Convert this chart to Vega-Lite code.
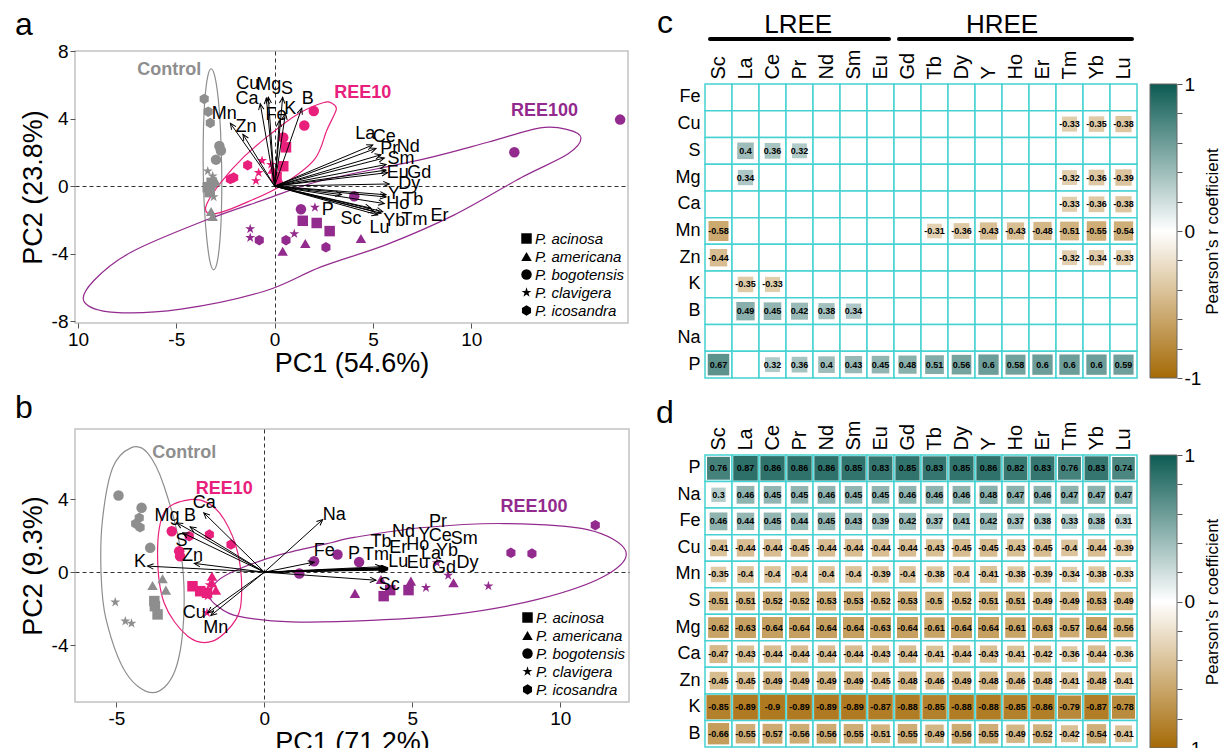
{
"$schema": "https://vega.github.io/schema/vega-lite/v6.json",
"padding": {"left": 14, "top": 7, "right": 2, "bottom": 2},
"autosize": {"type": "pad"},
"config": {
  "font": "Liberation Sans",
  "view": {"stroke": null},
  "axis": {"grid": false, "labelColor": "black", "titleColor": "black", "titleFontWeight": "normal"},
  "title": {"color": "black", "fontWeight": "normal"},
  "legend": {"labelColor": "black"}
},
"datasets": {
  "ptsA": [
    {"t":"Control","s":"P. icosandra","x":-3.58,"y":5.16},
    {"t":"Control","s":"P. icosandra","x":-3.38,"y":4.41},
    {"t":"Control","s":"P. icosandra","x":-3.27,"y":3.74},
    {"t":"Control","s":"P. bogotensis","x":-2.81,"y":2.38},
    {"t":"Control","s":"P. bogotensis","x":-2.73,"y":2.11},
    {"t":"Control","s":"P. bogotensis","x":-2.98,"y":1.57},
    {"t":"Control","s":"P. clavigera","x":-3.4,"y":0.89},
    {"t":"Control","s":"P. clavigera","x":-3.15,"y":0.6},
    {"t":"Control","s":"P. clavigera","x":-3.1,"y":-0.64},
    {"t":"Control","s":"P. acinosa","x":-3.4,"y":-0.06},
    {"t":"Control","s":"P. acinosa","x":-3.3,"y":-0.35},
    {"t":"Control","s":"P. acinosa","x":-3.2,"y":0.2},
    {"t":"Control","s":"P. americana","x":-3.23,"y":-1.5},
    {"t":"Control","s":"P. americana","x":-3.15,"y":-1.8},
    {"t":"Control","s":"P. americana","x":-3.0,"y":0.3},
    {"t":"REE10","s":"P. bogotensis","x":1.99,"y":4.45},
    {"t":"REE10","s":"P. bogotensis","x":1.51,"y":3.59},
    {"t":"REE10","s":"P. bogotensis","x":0.44,"y":2.88},
    {"t":"REE10","s":"P. acinosa","x":0.58,"y":2.3},
    {"t":"REE10","s":"P. acinosa","x":0.44,"y":1.18},
    {"t":"REE10","s":"P. acinosa","x":0.1,"y":0.55},
    {"t":"REE10","s":"P. icosandra","x":-1.37,"y":1.24},
    {"t":"REE10","s":"P. icosandra","x":-2.08,"y":0.51},
    {"t":"REE10","s":"P. icosandra","x":-2.25,"y":0.42},
    {"t":"REE10","s":"P. clavigera","x":-0.64,"y":1.51},
    {"t":"REE10","s":"P. clavigera","x":-0.81,"y":0.8},
    {"t":"REE10","s":"P. clavigera","x":-0.95,"y":0.32},
    {"t":"REE10","s":"P. clavigera","x":-0.18,"y":1.28},
    {"t":"REE10","s":"P. americana","x":0.25,"y":0.35},
    {"t":"REE10","s":"P. americana","x":-0.1,"y":1.0},
    {"t":"REE100","s":"P. bogotensis","x":17.57,"y":3.94},
    {"t":"REE100","s":"P. bogotensis","x":12.19,"y":2.01},
    {"t":"REE100","s":"P. bogotensis","x":4.05,"y":-0.6},
    {"t":"REE100","s":"P. bogotensis","x":1.34,"y":-1.37},
    {"t":"REE100","s":"P. clavigera","x":2.05,"y":-1.26},
    {"t":"REE100","s":"P. clavigera","x":-1.24,"y":-2.53},
    {"t":"REE100","s":"P. clavigera","x":-1.24,"y":-3.05},
    {"t":"REE100","s":"P. clavigera","x":1.0,"y":-2.82},
    {"t":"REE100","s":"P. acinosa","x":1.43,"y":-2.05},
    {"t":"REE100","s":"P. acinosa","x":2.14,"y":-2.18},
    {"t":"REE100","s":"P. acinosa","x":2.8,"y":-2.66},
    {"t":"REE100","s":"P. icosandra","x":-0.78,"y":-3.2},
    {"t":"REE100","s":"P. icosandra","x":0.58,"y":-3.2},
    {"t":"REE100","s":"P. icosandra","x":2.61,"y":-3.62},
    {"t":"REE100","s":"P. americana","x":0.41,"y":-3.85},
    {"t":"REE100","s":"P. americana","x":1.56,"y":-3.39},
    {"t":"REE100","s":"P. americana","x":4.39,"y":-3.1}
  ],
  "ellA": [
    {"t":"Control","i":0,"x":-2.69,"y":1.0},
    {"t":"Control","i":1,"x":-2.75,"y":3.28},
    {"t":"Control","i":2,"x":-2.87,"y":5.21},
    {"t":"Control","i":3,"x":-3.04,"y":6.5},
    {"t":"Control","i":4,"x":-3.23,"y":6.95},
    {"t":"Control","i":5,"x":-3.4,"y":6.5},
    {"t":"Control","i":6,"x":-3.54,"y":5.21},
    {"t":"Control","i":7,"x":-3.62,"y":3.28},
    {"t":"Control","i":8,"x":-3.63,"y":1.0},
    {"t":"Control","i":9,"x":-3.57,"y":-1.28},
    {"t":"Control","i":10,"x":-3.44,"y":-3.21},
    {"t":"Control","i":11,"x":-3.28,"y":-4.5},
    {"t":"Control","i":12,"x":-3.1,"y":-4.95},
    {"t":"Control","i":13,"x":-2.92,"y":-4.5},
    {"t":"Control","i":14,"x":-2.78,"y":-3.21},
    {"t":"Control","i":15,"x":-2.7,"y":-1.28},
    {"t":"REE10","i":0,"x":3.14,"y":4.6},
    {"t":"REE10","i":1,"x":2.95,"y":4.88},
    {"t":"REE10","i":2,"x":2.5,"y":4.95},
    {"t":"REE10","i":3,"x":1.17,"y":4.26},
    {"t":"REE10","i":4,"x":-0.18,"y":3.11},
    {"t":"REE10","i":5,"x":-1.54,"y":1.76},
    {"t":"REE10","i":6,"x":-2.73,"y":0.23},
    {"t":"REE10","i":7,"x":-3.45,"y":-1.05},
    {"t":"REE10","i":8,"x":-3.4,"y":-1.6},
    {"t":"REE10","i":9,"x":-2.73,"y":-1.55},
    {"t":"REE10","i":10,"x":-1.37,"y":-0.93},
    {"t":"REE10","i":11,"x":0.33,"y":0.03},
    {"t":"REE10","i":12,"x":2.02,"y":1.57},
    {"t":"REE10","i":13,"x":2.65,"y":3.3},
    {"t":"REE10","i":14,"x":3.0,"y":4.15},
    {"t":"REE100","i":0,"x":15.58,"y":2.85},
    {"t":"REE100","i":1,"x":14.9,"y":3.35},
    {"t":"REE100","i":2,"x":13.5,"y":3.45},
    {"t":"REE100","i":3,"x":10.84,"y":2.6},
    {"t":"REE100","i":4,"x":7.45,"y":1.57},
    {"t":"REE100","i":5,"x":2.36,"y":0.32},
    {"t":"REE100","i":6,"x":-0.52,"y":-0.8},
    {"t":"REE100","i":7,"x":-3.58,"y":-2.05},
    {"t":"REE100","i":8,"x":-7.3,"y":-3.91},
    {"t":"REE100","i":9,"x":-9.2,"y":-5.6},
    {"t":"REE100","i":10,"x":-9.68,"y":-6.85},
    {"t":"REE100","i":11,"x":-8.15,"y":-7.47},
    {"t":"REE100","i":12,"x":-4.76,"y":-7.28},
    {"t":"REE100","i":13,"x":-0.52,"y":-6.22},
    {"t":"REE100","i":14,"x":2.36,"y":-4.78},
    {"t":"REE100","i":15,"x":5.75,"y":-3.43},
    {"t":"REE100","i":16,"x":9.14,"y":-1.7},
    {"t":"REE100","i":17,"x":12.53,"y":0.5},
    {"t":"REE100","i":18,"x":14.91,"y":1.9}
  ],
  "arrA": [
    {"n":"Cu","x":-0.42,"y":5.22},
    {"n":"Mg","x":-0.32,"y":5.26},
    {"n":"S","x":0.41,"y":5.26},
    {"n":"Ca","x":-0.73,"y":4.88},
    {"n":"Fe","x":0.24,"y":3.88},
    {"n":"K","x":0.55,"y":4.3},
    {"n":"B","x":1.38,"y":4.61},
    {"n":"Mn","x":-2.25,"y":3.72},
    {"n":"Zn","x":-1.61,"y":3.07},
    {"n":"La","x":4.99,"y":2.44},
    {"n":"Ce","x":5.16,"y":2.24},
    {"n":"Pr","x":5.41,"y":1.86},
    {"n":"Nd","x":5.58,"y":1.67},
    {"n":"Sm","x":5.67,"y":1.28},
    {"n":"Eu","x":5.67,"y":0.95},
    {"n":"Gd","x":5.75,"y":0.8},
    {"n":"Dy","x":5.83,"y":0.13},
    {"n":"Y","x":5.67,"y":-0.51},
    {"n":"Tb","x":5.67,"y":-0.64},
    {"n":"Ho","x":5.58,"y":-1.03},
    {"n":"Er","x":5.5,"y":-1.51},
    {"n":"Tm","x":5.41,"y":-1.6},
    {"n":"Yb","x":5.24,"y":-1.7},
    {"n":"Lu","x":5.07,"y":-1.51},
    {"n":"Sc","x":4.9,"y":-1.3},
    {"n":"P","x":3.4,"y":-0.5}
  ],
  "labA": [
    {"n":"Cu","x":-1.37,"y":6.05},
    {"n":"Mg","x":-0.3,"y":6.0},
    {"n":"S","x":0.63,"y":5.74},
    {"n":"Ca","x":-1.4,"y":5.13},
    {"n":"Fe","x":0.07,"y":4.22},
    {"n":"K","x":0.8,"y":4.55},
    {"n":"B","x":1.68,"y":5.13},
    {"n":"Mn","x":-2.56,"y":4.3},
    {"n":"Zn","x":-1.45,"y":3.53},
    {"n":"La","x":4.61,"y":3.11},
    {"n":"Ce","x":5.58,"y":2.91},
    {"n":"Pr","x":5.83,"y":2.2},
    {"n":"Nd","x":6.8,"y":2.34},
    {"n":"Sm","x":6.43,"y":1.61},
    {"n":"Eu","x":6.26,"y":0.8},
    {"n":"Gd","x":7.36,"y":0.8},
    {"n":"Dy","x":6.85,"y":0.13},
    {"n":"Y","x":6.06,"y":-0.49},
    {"n":"Tb","x":7.02,"y":-0.8},
    {"n":"Ho","x":6.26,"y":-1.08},
    {"n":"Er","x":8.38,"y":-1.79},
    {"n":"Tm","x":7.11,"y":-1.99},
    {"n":"Yb","x":6.09,"y":-2.05},
    {"n":"Lu","x":5.33,"y":-2.47},
    {"n":"Sc","x":3.89,"y":-1.95},
    {"n":"P","x":2.7,"y":-1.41}
  ],
  "grpA": [
    {"t":"Control","x":-5.36,"y":6.86},
    {"t":"REE10","x":4.48,"y":5.51},
    {"t":"REE100","x":13.72,"y":4.45}
  ],
  "ptsB": [
    {"t":"Control","s":"P. bogotensis","x":-4.93,"y":4.19},
    {"t":"Control","s":"P. bogotensis","x":-4.15,"y":3.52},
    {"t":"Control","s":"P. bogotensis","x":-3.86,"y":1.33},
    {"t":"Control","s":"P. icosandra","x":-4.23,"y":2.97},
    {"t":"Control","s":"P. icosandra","x":-4.35,"y":2.65},
    {"t":"Control","s":"P. icosandra","x":-4.2,"y":2.45},
    {"t":"Control","s":"P. americana","x":-3.44,"y":-0.36},
    {"t":"Control","s":"P. americana","x":-3.78,"y":-0.73},
    {"t":"Control","s":"P. americana","x":-3.33,"y":-0.98},
    {"t":"Control","s":"P. acinosa","x":-3.72,"y":-1.58},
    {"t":"Control","s":"P. acinosa","x":-3.7,"y":-1.86},
    {"t":"Control","s":"P. acinosa","x":-3.61,"y":-2.31},
    {"t":"Control","s":"P. clavigera","x":-5.04,"y":-1.64},
    {"t":"Control","s":"P. clavigera","x":-4.7,"y":-2.68},
    {"t":"Control","s":"P. clavigera","x":-4.49,"y":-2.8},
    {"t":"REE10","s":"P. bogotensis","x":-3.13,"y":2.24},
    {"t":"REE10","s":"P. bogotensis","x":-2.88,"y":1.15},
    {"t":"REE10","s":"P. bogotensis","x":-2.85,"y":0.87},
    {"t":"REE10","s":"P. icosandra","x":-2.54,"y":1.97},
    {"t":"REE10","s":"P. icosandra","x":-1.86,"y":2.06},
    {"t":"REE10","s":"P. icosandra","x":-1.13,"y":1.51},
    {"t":"REE10","s":"P. acinosa","x":-2.43,"y":-0.77},
    {"t":"REE10","s":"P. acinosa","x":-2.17,"y":-1.04},
    {"t":"REE10","s":"P. acinosa","x":-1.94,"y":-1.13},
    {"t":"REE10","s":"P. americana","x":-1.77,"y":-0.22},
    {"t":"REE10","s":"P. americana","x":-1.77,"y":-0.58},
    {"t":"REE10","s":"P. americana","x":-1.64,"y":-0.98},
    {"t":"REE10","s":"P. clavigera","x":-1.92,"y":-1.31},
    {"t":"REE10","s":"P. clavigera","x":-1.94,"y":-2.22},
    {"t":"REE10","s":"P. clavigera","x":-1.85,"y":-0.7},
    {"t":"REE100","s":"P. bogotensis","x":1.68,"y":0.6},
    {"t":"REE100","s":"P. bogotensis","x":2.47,"y":0.97},
    {"t":"REE100","s":"P. bogotensis","x":3.2,"y":0.55},
    {"t":"REE100","s":"P. bogotensis","x":1.18,"y":-0.07},
    {"t":"REE100","s":"P. icosandra","x":11.18,"y":2.57},
    {"t":"REE100","s":"P. icosandra","x":8.33,"y":1.06},
    {"t":"REE100","s":"P. icosandra","x":9.04,"y":1.02},
    {"t":"REE100","s":"P. americana","x":3.06,"y":-1.16},
    {"t":"REE100","s":"P. americana","x":4.95,"y":-0.49},
    {"t":"REE100","s":"P. americana","x":6.39,"y":-0.58},
    {"t":"REE100","s":"P. americana","x":3.94,"y":-0.4},
    {"t":"REE100","s":"P. acinosa","x":4.03,"y":-1.31},
    {"t":"REE100","s":"P. acinosa","x":4.25,"y":-0.98},
    {"t":"REE100","s":"P. acinosa","x":4.87,"y":-0.98},
    {"t":"REE100","s":"P. clavigera","x":5.46,"y":-0.85},
    {"t":"REE100","s":"P. clavigera","x":6.21,"y":-0.18},
    {"t":"REE100","s":"P. clavigera","x":7.57,"y":-0.76},
    {"t":"REE100","s":"P. clavigera","x":5.83,"y":0.51}
  ],
  "ellB": [
    {"t":"Control","i":0,"x":-4.51,"y":6.8},
    {"t":"Control","i":1,"x":-3.95,"y":6.52},
    {"t":"Control","i":2,"x":-3.39,"y":4.7},
    {"t":"Control","i":3,"x":-2.82,"y":1.06},
    {"t":"Control","i":4,"x":-2.73,"y":-2.58},
    {"t":"Control","i":5,"x":-3.05,"y":-5.5},
    {"t":"Control","i":6,"x":-3.78,"y":-6.59},
    {"t":"Control","i":7,"x":-4.68,"y":-5.5},
    {"t":"Control","i":8,"x":-5.35,"y":-2.58},
    {"t":"Control","i":9,"x":-5.52,"y":-0.03},
    {"t":"Control","i":10,"x":-5.47,"y":2.88},
    {"t":"Control","i":11,"x":-5.13,"y":5.7},
    {"t":"REE10","i":0,"x":-2.65,"y":3.93},
    {"t":"REE10","i":1,"x":-1.92,"y":3.79},
    {"t":"REE10","i":2,"x":-1.36,"y":2.88},
    {"t":"REE10","i":3,"x":-0.9,"y":1.06},
    {"t":"REE10","i":4,"x":-0.77,"y":-1.13},
    {"t":"REE10","i":5,"x":-0.96,"y":-2.58},
    {"t":"REE10","i":6,"x":-1.75,"y":-3.77},
    {"t":"REE10","i":7,"x":-2.59,"y":-3.5},
    {"t":"REE10","i":8,"x":-3.39,"y":-1.67},
    {"t":"REE10","i":9,"x":-3.61,"y":1.06},
    {"t":"REE10","i":10,"x":-3.39,"y":3.25},
    {"t":"REE100","i":0,"x":-1.85,"y":-1.3},
    {"t":"REE100","i":1,"x":-1.6,"y":-0.5},
    {"t":"REE100","i":2,"x":-0.9,"y":0.15},
    {"t":"REE100","i":3,"x":0.56,"y":0.97},
    {"t":"REE100","i":4,"x":2.25,"y":1.61},
    {"t":"REE100","i":5,"x":3.03,"y":1.9},
    {"t":"REE100","i":6,"x":5.29,"y":2.43},
    {"t":"REE100","i":7,"x":8.1,"y":2.66},
    {"t":"REE100","i":8,"x":10.92,"y":2.33},
    {"t":"REE100","i":9,"x":12.21,"y":1.15},
    {"t":"REE100","i":10,"x":11.48,"y":-0.22},
    {"t":"REE100","i":11,"x":9.23,"y":-1.49},
    {"t":"REE100","i":12,"x":6.41,"y":-2.31},
    {"t":"REE100","i":13,"x":3.6,"y":-2.64},
    {"t":"REE100","i":14,"x":0.9,"y":-2.72},
    {"t":"REE100","i":15,"x":-0.9,"y":-2.4},
    {"t":"REE100","i":16,"x":-1.58,"y":-1.86}
  ],
  "arrB": [
    {"n":"Ca","x":-2.05,"y":3.25},
    {"n":"Mg","x":-2.96,"y":2.7},
    {"n":"B","x":-2.51,"y":2.48},
    {"n":"S","x":-2.76,"y":2.15},
    {"n":"Zn","x":-2.37,"y":0.48},
    {"n":"K","x":-3.95,"y":0.33},
    {"n":"Cu","x":-1.92,"y":-2.22},
    {"n":"Mn","x":-1.81,"y":-2.37},
    {"n":"Na","x":1.97,"y":2.88},
    {"n":"Fe","x":1.68,"y":0.55},
    {"n":"P","x":3.95,"y":0.3},
    {"n":"Tm","x":4.05,"y":0.22},
    {"n":"Tb","x":4.1,"y":0.22},
    {"n":"Nd","x":4.15,"y":0.22},
    {"n":"Er","x":4.1,"y":0.18},
    {"n":"Ho","x":4.1,"y":0.2},
    {"n":"Y","x":4.15,"y":0.25},
    {"n":"Pr","x":4.15,"y":0.23},
    {"n":"Ce","x":4.15,"y":0.22},
    {"n":"Sm","x":4.15,"y":0.2},
    {"n":"La","x":4.15,"y":0.2},
    {"n":"Yb","x":4.15,"y":0.12},
    {"n":"Lu","x":4.05,"y":0.15},
    {"n":"Eu","x":4.1,"y":0.18},
    {"n":"Gd","x":4.15,"y":0.16},
    {"n":"Dy","x":4.15,"y":0.15},
    {"n":"Sc","x":3.77,"y":-0.44}
  ],
  "labB": [
    {"n":"Ca","x":-2.03,"y":3.79},
    {"n":"Mg","x":-3.29,"y":3.06},
    {"n":"B","x":-2.51,"y":3.06},
    {"n":"S","x":-2.8,"y":1.69},
    {"n":"Zn","x":-2.43,"y":0.91},
    {"n":"K","x":-4.2,"y":0.55},
    {"n":"Cu","x":-2.37,"y":-2.22},
    {"n":"Mn","x":-1.64,"y":-3.04},
    {"n":"Na","x":2.36,"y":3.15},
    {"n":"Fe","x":2.02,"y":1.15},
    {"n":"P","x":3.03,"y":0.97},
    {"n":"Tm","x":3.77,"y":0.93},
    {"n":"Tb","x":3.94,"y":1.64},
    {"n":"Nd","x":4.7,"y":2.19},
    {"n":"Er","x":4.52,"y":1.33},
    {"n":"Ho","x":5.18,"y":1.46},
    {"n":"Y","x":5.4,"y":2.06},
    {"n":"Pr","x":5.87,"y":2.73},
    {"n":"Ce","x":5.94,"y":2.0},
    {"n":"Sm","x":6.75,"y":1.84},
    {"n":"La","x":5.63,"y":0.97},
    {"n":"Yb","x":6.17,"y":1.15},
    {"n":"Lu","x":4.52,"y":0.55},
    {"n":"Eu","x":5.18,"y":0.48},
    {"n":"Gd","x":6.07,"y":0.24},
    {"n":"Dy","x":6.86,"y":0.48},
    {"n":"Sc","x":4.22,"y":-0.71}
  ],
  "grpB": [
    {"t":"Control","x":-2.71,"y":6.52},
    {"t":"REE10","x":-1.36,"y":4.56},
    {"t":"REE100","x":9.11,"y":3.57}
  ],
  "corrC": [
    {"row":"Fe"},
    {"row":"Cu","Tm":-0.33,"Yb":-0.35,"Lu":-0.38},
    {"row":"S","La":0.4,"Ce":0.36,"Pr":0.32},
    {"row":"Mg","La":0.34,"Tm":-0.32,"Yb":-0.36,"Lu":-0.39},
    {"row":"Ca","Tm":-0.33,"Yb":-0.36,"Lu":-0.38},
    {"row":"Mn","Sc":-0.58,"Tb":-0.31,"Dy":-0.36,"Y":-0.43,"Ho":-0.43,"Er":-0.48,"Tm":-0.51,"Yb":-0.55,"Lu":-0.54},
    {"row":"Zn","Sc":-0.44,"Tm":-0.32,"Yb":-0.34,"Lu":-0.33},
    {"row":"K","La":-0.35,"Ce":-0.33},
    {"row":"B","La":0.49,"Ce":0.45,"Pr":0.42,"Nd":0.38,"Sm":0.34},
    {"row":"Na"},
    {"row":"P","Sc":0.67,"Ce":0.32,"Pr":0.36,"Nd":0.4,"Sm":0.43,"Eu":0.45,"Gd":0.48,"Tb":0.51,"Dy":0.56,"Y":0.6,"Ho":0.58,"Er":0.6,"Tm":0.6,"Yb":0.6,"Lu":0.59}
  ],
  "corrD": [
    {"row":"P","Sc":0.76,"La":0.87,"Ce":0.86,"Pr":0.86,"Nd":0.86,"Sm":0.85,"Eu":0.83,"Gd":0.85,"Tb":0.83,"Dy":0.85,"Y":0.86,"Ho":0.82,"Er":0.83,"Tm":0.76,"Yb":0.83,"Lu":0.74},
    {"row":"Na","Sc":0.3,"La":0.46,"Ce":0.45,"Pr":0.45,"Nd":0.46,"Sm":0.45,"Eu":0.45,"Gd":0.46,"Tb":0.46,"Dy":0.46,"Y":0.48,"Ho":0.47,"Er":0.46,"Tm":0.47,"Yb":0.47,"Lu":0.47},
    {"row":"Fe","Sc":0.46,"La":0.44,"Ce":0.45,"Pr":0.44,"Nd":0.45,"Sm":0.43,"Eu":0.39,"Gd":0.42,"Tb":0.37,"Dy":0.41,"Y":0.42,"Ho":0.37,"Er":0.38,"Tm":0.33,"Yb":0.38,"Lu":0.31},
    {"row":"Cu","Sc":-0.41,"La":-0.44,"Ce":-0.44,"Pr":-0.45,"Nd":-0.44,"Sm":-0.44,"Eu":-0.44,"Gd":-0.44,"Tb":-0.43,"Dy":-0.45,"Y":-0.45,"Ho":-0.43,"Er":-0.45,"Tm":-0.4,"Yb":-0.44,"Lu":-0.39},
    {"row":"Mn","Sc":-0.35,"La":-0.4,"Ce":-0.4,"Pr":-0.4,"Nd":-0.4,"Sm":-0.4,"Eu":-0.39,"Gd":-0.4,"Tb":-0.38,"Dy":-0.4,"Y":-0.41,"Ho":-0.38,"Er":-0.39,"Tm":-0.34,"Yb":-0.38,"Lu":-0.33},
    {"row":"S","Sc":-0.51,"La":-0.51,"Ce":-0.52,"Pr":-0.52,"Nd":-0.53,"Sm":-0.53,"Eu":-0.52,"Gd":-0.53,"Tb":-0.5,"Dy":-0.52,"Y":-0.51,"Ho":-0.51,"Er":-0.49,"Tm":-0.49,"Yb":-0.53,"Lu":-0.49},
    {"row":"Mg","Sc":-0.62,"La":-0.63,"Ce":-0.64,"Pr":-0.64,"Nd":-0.64,"Sm":-0.64,"Eu":-0.63,"Gd":-0.64,"Tb":-0.61,"Dy":-0.64,"Y":-0.64,"Ho":-0.61,"Er":-0.63,"Tm":-0.57,"Yb":-0.64,"Lu":-0.56},
    {"row":"Ca","Sc":-0.47,"La":-0.43,"Ce":-0.44,"Pr":-0.44,"Nd":-0.44,"Sm":-0.44,"Eu":-0.43,"Gd":-0.44,"Tb":-0.41,"Dy":-0.44,"Y":-0.43,"Ho":-0.41,"Er":-0.42,"Tm":-0.36,"Yb":-0.44,"Lu":-0.36},
    {"row":"Zn","Sc":-0.45,"La":-0.45,"Ce":-0.49,"Pr":-0.49,"Nd":-0.49,"Sm":-0.49,"Eu":-0.45,"Gd":-0.48,"Tb":-0.46,"Dy":-0.49,"Y":-0.48,"Ho":-0.46,"Er":-0.48,"Tm":-0.41,"Yb":-0.48,"Lu":-0.41},
    {"row":"K","Sc":-0.85,"La":-0.89,"Ce":-0.9,"Pr":-0.89,"Nd":-0.89,"Sm":-0.89,"Eu":-0.87,"Gd":-0.88,"Tb":-0.85,"Dy":-0.88,"Y":-0.88,"Ho":-0.85,"Er":-0.86,"Tm":-0.79,"Yb":-0.87,"Lu":-0.78},
    {"row":"B","Sc":-0.66,"La":-0.55,"Ce":-0.57,"Pr":-0.56,"Nd":-0.56,"Sm":-0.55,"Eu":-0.51,"Gd":-0.55,"Tb":-0.49,"Dy":-0.56,"Y":-0.55,"Ho":-0.49,"Er":-0.52,"Tm":-0.42,"Yb":-0.54,"Lu":-0.41}
  ]
},
"bounds": "full",
"spacing": 26,
"resolve": {"scale": {"color": "independent", "shape": "independent", "size": "independent"}, "legend": {"color": "independent", "shape": "independent", "size": "independent"}},
"hconcat": [
  {
    "spacing": 0,
    "resolve": {"scale": {"color": "independent", "shape": "independent", "size": "independent"}, "legend": {"color": "independent", "shape": "independent", "size": "independent"}},
    "vconcat": [
      {
        "title": {"text": "a", "anchor": "start", "frame": "group", "fontSize": 32, "dx": -60, "offset": -35, "baseline": "alphabetic"},
        "width": 553, "height": 1,
        "data": {"values": [{}]},
        "mark": {"type": "point", "opacity": 0}
      },
      {
        "spacing": 14,
        "resolve": {"scale": {"color": "independent", "shape": "independent", "size": "independent"}, "legend": {"color": "independent", "shape": "independent", "size": "independent"}},
        "vconcat": [
          {
            "width": 553, "height": 272,
            "view": {"stroke": "#c2c2c2", "strokeWidth": 1.5},
            "encoding": {
              "x": {"field": "x", "type": "quantitative", "scale": {"domain": [-10.15, 17.97], "nice": false, "zero": false},
                    "axis": {"title": "PC1 (54.6%)", "values": [-10, -5, 0, 5, 10], "labelExpr": "datum.value == -10 ? '10' : '' + datum.value", "labelFlush": false, "labelFont": "Liberation Sans Narrow, Liberation Sans", "labelFontSize": 19, "titleFont": "Liberation Sans Narrow, Liberation Sans", "titleFontSize": 27, "titlePadding": 1, "tickSize": 5, "tickColor": "#555", "domain": false, "labelPadding": 2,
                             "grid": true, "gridColor": "#333", "gridDash": [4, 3], "gridWidth": 1, "gridOpacity": {"condition": {"test": "datum.value === 0", "value": 1}, "value": 0}}},
              "y": {"field": "y", "type": "quantitative", "scale": {"domain": [-8.1, 8.0], "nice": false, "zero": false},
                    "axis": {"title": "PC2 (23.8%)", "values": [-8, -4, 0, 4, 8], "labelExpr": "'' + datum.value", "labelFlush": false, "labelFont": "Liberation Sans Narrow, Liberation Sans", "labelFontSize": 19, "titleFont": "Liberation Sans Narrow, Liberation Sans", "titleFontSize": 27, "titlePadding": 4, "tickSize": 5, "tickColor": "#555", "domain": false, "labelPadding": 2,
                             "grid": true, "gridColor": "#333", "gridDash": [4, 3], "gridWidth": 1, "gridOpacity": {"condition": {"test": "datum.value === 0", "value": 1}, "value": 0}}}
            },
            "layer": [
              {"data": {"name": "ellA"}, "mark": {"type": "line", "interpolate": "cardinal-closed", "strokeWidth": 1.2},
               "encoding": {
                 "color": {"field": "t", "type": "nominal", "scale": {"domain": ["Control", "REE10", "REE100"], "range": ["#8e8e8e", "#e8207c", "#932a8e"]}, "legend": null},
                 "order": {"field": "i", "type": "quantitative"}}},
              {"data": {"name": "ptsA"}, "mark": {"type": "point", "filled": true, "opacity": 1, "size": 110},
               "encoding": {
                 "color": {"field": "t", "type": "nominal", "scale": {"domain": ["Control", "REE10", "REE100"], "range": ["#8e8e8e", "#e8207c", "#932a8e"]}, "legend": null},
                 "shape": {"field": "s", "type": "nominal",
                           "scale": {"domain": ["P. acinosa", "P. americana", "P. bogotensis", "P. clavigera", "P. icosandra"],
                                     "range": ["square", "triangle-up", "circle", "M0,-1L0.2245,-0.309L0.9511,-0.309L0.3633,0.118L0.5878,0.809L0,0.382L-0.5878,0.809L-0.3633,0.118L-0.9511,-0.309L-0.2245,-0.309Z", "M0,-1L0.866,-0.5L0.866,0.5L0,1L-0.866,0.5L-0.866,-0.5Z"]},
                           "legend": {"orient": "bottom-right", "offset": 4, "title": null, "labelFont": "Liberation Sans Narrow, Liberation Sans", "labelFontStyle": "italic", "labelFontSize": 15, "symbolFillColor": "black", "symbolStrokeColor": "black", "symbolStrokeWidth": 0, "symbolSize": 110, "symbolOpacity": 1, "rowPadding": 2, "labelOffset": 1, "padding": 0}}}},
              {"data": {"name": "arrA"}, "mark": {"type": "rule", "color": "black", "strokeWidth": 1},
               "encoding": {"x2": {"datum": 0}, "y2": {"datum": 0}}},
              {"data": {"name": "arrA"},
               "transform": [{"calculate": "90 - atan2(datum.y * 16.89, datum.x * 19.67) * 180 / PI", "as": "ang"}],
               "mark": {"type": "point", "shape": "M-0.45,1L0,0L0.45,1", "filled": false, "color": "black", "strokeWidth": 1, "size": 144, "opacity": 1},
               "encoding": {"angle": {"field": "ang", "type": "quantitative", "scale": null}}},
              {"data": {"name": "labA"}, "mark": {"type": "text", "font": "Liberation Sans Narrow, Liberation Sans", "fontSize": 18, "color": "black"},
               "encoding": {"text": {"field": "n"}}},
              {"data": {"name": "grpA"}, "mark": {"type": "text", "font": "Liberation Sans Narrow, Liberation Sans", "fontSize": 18, "fontWeight": "bold"},
               "encoding": {
                 "text": {"field": "t"},
                 "color": {"field": "t", "type": "nominal", "scale": {"domain": ["Control", "REE10", "REE100"], "range": ["#8e8e8e", "#e8207c", "#932a8e"]}, "legend": null}}}
            ]
          },
          {
            "title": {"text": "b", "anchor": "start", "frame": "group", "fontSize": 32, "dx": -60, "offset": -21, "baseline": "alphabetic"},
            "width": 554, "height": 273,
            "view": {"stroke": "#c2c2c2", "strokeWidth": 1.5},
            "encoding": {
              "x": {"field": "x", "type": "quantitative", "scale": {"domain": [-6.4, 12.32], "nice": false, "zero": false},
                    "axis": {"title": "PC1 (71.2%)", "values": [-5, 0, 5, 10], "labelExpr": "'' + datum.value", "labelFlush": false, "labelFont": "Liberation Sans Narrow, Liberation Sans", "labelFontSize": 19, "titleFont": "Liberation Sans Narrow, Liberation Sans", "titleFontSize": 27, "titlePadding": 1, "tickSize": 5, "tickColor": "#555", "domain": false, "labelPadding": 2,
                             "grid": true, "gridColor": "#333", "gridDash": [4, 3], "gridWidth": 1, "gridOpacity": {"condition": {"test": "datum.value === 0", "value": 1}, "value": 0}}},
              "y": {"field": "y", "type": "quantitative", "scale": {"domain": [-7.1, 7.83], "nice": false, "zero": false},
                    "axis": {"title": "PC2 (9.3%)", "values": [-4, 0, 4], "labelExpr": "'' + datum.value", "labelFlush": false, "labelFont": "Liberation Sans Narrow, Liberation Sans", "labelFontSize": 19, "titleFont": "Liberation Sans Narrow, Liberation Sans", "titleFontSize": 27, "titlePadding": 4, "tickSize": 5, "tickColor": "#555", "domain": false, "labelPadding": 2,
                             "grid": true, "gridColor": "#333", "gridDash": [4, 3], "gridWidth": 1, "gridOpacity": {"condition": {"test": "datum.value === 0", "value": 1}, "value": 0}}}
            },
            "layer": [
              {"data": {"name": "ellB"}, "mark": {"type": "line", "interpolate": "cardinal-closed", "strokeWidth": 1.2},
               "encoding": {
                 "color": {"field": "t", "type": "nominal", "scale": {"domain": ["Control", "REE10", "REE100"], "range": ["#8e8e8e", "#e8207c", "#932a8e"]}, "legend": null},
                 "order": {"field": "i", "type": "quantitative"}}},
              {"data": {"name": "ptsB"}, "mark": {"type": "point", "filled": true, "opacity": 1, "size": 110},
               "encoding": {
                 "color": {"field": "t", "type": "nominal", "scale": {"domain": ["Control", "REE10", "REE100"], "range": ["#8e8e8e", "#e8207c", "#932a8e"]}, "legend": null},
                 "shape": {"field": "s", "type": "nominal",
                           "scale": {"domain": ["P. acinosa", "P. americana", "P. bogotensis", "P. clavigera", "P. icosandra"],
                                     "range": ["square", "triangle-up", "circle", "M0,-1L0.2245,-0.309L0.9511,-0.309L0.3633,0.118L0.5878,0.809L0,0.382L-0.5878,0.809L-0.3633,0.118L-0.9511,-0.309L-0.2245,-0.309Z", "M0,-1L0.866,-0.5L0.866,0.5L0,1L-0.866,0.5L-0.866,-0.5Z"]},
                           "legend": {"orient": "bottom-right", "offset": 4, "title": null, "labelFont": "Liberation Sans Narrow, Liberation Sans", "labelFontStyle": "italic", "labelFontSize": 15, "symbolFillColor": "black", "symbolStrokeColor": "black", "symbolStrokeWidth": 0, "symbolSize": 110, "symbolOpacity": 1, "rowPadding": 2, "labelOffset": 1, "padding": 0}}}},
              {"data": {"name": "arrB"}, "mark": {"type": "rule", "color": "black", "strokeWidth": 1},
               "encoding": {"x2": {"datum": 0}, "y2": {"datum": 0}}},
              {"data": {"name": "arrB"},
               "transform": [{"calculate": "90 - atan2(datum.y * 18.29, datum.x * 29.6) * 180 / PI", "as": "ang"}],
               "mark": {"type": "point", "shape": "M-0.45,1L0,0L0.45,1", "filled": false, "color": "black", "strokeWidth": 1, "size": 144, "opacity": 1},
               "encoding": {"angle": {"field": "ang", "type": "quantitative", "scale": null}}},
              {"data": {"name": "labB"}, "mark": {"type": "text", "font": "Liberation Sans Narrow, Liberation Sans", "fontSize": 18, "color": "black"},
               "encoding": {"text": {"field": "n"}}},
              {"data": {"name": "grpB"}, "mark": {"type": "text", "font": "Liberation Sans Narrow, Liberation Sans", "fontSize": 18, "fontWeight": "bold"},
               "encoding": {
                 "text": {"field": "t"},
                 "color": {"field": "t", "type": "nominal", "scale": {"domain": ["Control", "REE10", "REE100"], "range": ["#8e8e8e", "#e8207c", "#932a8e"]}, "legend": null}}}
            ]
          }
        ]
      }
    ]
  },
  {
    "spacing": 9,
    "resolve": {"scale": {"color": "independent", "size": "independent"}, "legend": {"color": "independent", "size": "independent"}},
    "vconcat": [
      {
        "spacing": 5,
        "vconcat": [
          {
            "title": {"text": "c", "anchor": "start", "frame": "group", "fontSize": 32, "dx": -48, "offset": -53, "baseline": "alphabetic"},
            "width": 432, "height": 10,
            "data": {"values": [{"g": "LREE", "from": 0, "to": 7, "c": 3.45}, {"g": "HREE", "from": 7, "to": 16, "c": 11.0}]},
            "layer": [
              {"mark": {"type": "rule", "strokeWidth": 4, "strokeCap": "round", "xOffset": 5, "x2Offset": -5, "color": "black"},
               "encoding": {
                 "x": {"field": "from", "type": "quantitative", "scale": {"domain": [0, 16], "nice": false, "zero": false}, "axis": null},
                 "x2": {"field": "to"},
                 "y": {"datum": 0.5, "type": "quantitative", "scale": {"domain": [0, 1]}, "axis": null}}},
              {"mark": {"type": "text", "fontSize": 26, "baseline": "alphabetic", "dy": -1, "color": "black"},
               "encoding": {
                 "x": {"field": "c", "type": "quantitative", "scale": {"domain": [0, 16], "nice": false, "zero": false}, "axis": null},
                 "y": {"datum": 1, "type": "quantitative", "scale": {"domain": [0, 1]}, "axis": null},
                 "text": {"field": "g"}}}
            ]
          },
          {
            "spacing": 11,
            "hconcat": [
              {
                "width": 432, "height": 294,
                "data": {"name": "corrC"},
                "transform": [{"fold": ["Sc","La","Ce","Pr","Nd","Sm","Eu","Gd","Tb","Dy","Y","Ho","Er","Tm","Yb","Lu"], "as": ["col", "v"]}],
                "encoding": {
                  "x": {"field": "col", "type": "nominal", "sort": ["Sc","La","Ce","Pr","Nd","Sm","Eu","Gd","Tb","Dy","Y","Ho","Er","Tm","Yb","Lu"], "scale": {"paddingInner": 0, "paddingOuter": 0},
                        "axis": {"orient": "top", "title": null, "labelAngle": -90, "labelFontSize": 20, "ticks": false, "domain": false, "labelPadding": 5}},
                  "y": {"field": "row", "type": "nominal", "sort": ["Fe","Cu","S","Mg","Ca","Mn","Zn","K","B","Na","P"], "scale": {"paddingInner": 0, "paddingOuter": 0},
                        "axis": {"title": null, "labelFontSize": 18, "ticks": false, "domain": false, "labelPadding": 5}}
                },
                "layer": [
                  {"mark": {"type": "rect", "fill": "white", "stroke": "#46d2d2", "strokeWidth": 1.5}},
                  {"transform": [{"filter": "isValid(datum.v)"}, {"calculate": "abs(datum.v)", "as": "av"}],
                   "mark": {"type": "square", "opacity": 1},
                   "encoding": {
                     "color": {"field": "v", "type": "quantitative", "scale": {"domain": [-1, 0, 1], "range": ["#a56a06", "#ffffff", "#0c5b53"], "interpolate": "rgb"}, "legend": null},
                     "size": {"field": "av", "type": "quantitative", "scale": {"domain": [0, 1], "range": [0, 690]}, "legend": null}}},
                  {"transform": [{"filter": "isValid(datum.v)"}],
                   "mark": {"type": "text", "fontSize": 9, "fontWeight": "bold", "color": "black"},
                   "encoding": {"text": {"field": "v", "type": "nominal"}}}
                ]
              },
              {
                "width": 27, "height": 294,
                "data": {"values": [{"lo": -1, "hi": 1}]},
                "mark": {"type": "rect", "fill": {"gradient": "linear", "x1": 0, "y1": 1, "x2": 0, "y2": 0, "stops": [{"offset": 0, "color": "#a56a06"}, {"offset": 0.5, "color": "#ffffff"}, {"offset": 1, "color": "#0c5b53"}]}, "stroke": "#666", "strokeWidth": 1},
                "encoding": {
                  "y": {"field": "lo", "type": "quantitative", "scale": {"domain": [-1, 1], "nice": false},
                        "axis": {"orient": "right", "values": [-1, -0.8, -0.6, -0.4, -0.2, 0, 0.2, 0.4, 0.6, 0.8, 1], "labelExpr": "datum.value == 1 ? '1' : datum.value == 0 ? '0' : datum.value == -1 ? '-1' : ''", "labelOverlap": false, "labelFlush": false, "labelFontSize": 19, "tickSize": 5, "tickColor": "#555", "domain": false, "title": "Pearson’s r coefficient", "titleAngle": 270, "titleBaseline": "top", "titleFontSize": 17, "titlePadding": 4}},
                  "y2": {"field": "hi"}}
              }
            ]
          }
        ]
      },
      {
        "spacing": 11,
        "hconcat": [
          {
            "title": {"text": "d", "anchor": "start", "frame": "group", "fontSize": 32, "dx": -49, "offset": -35, "baseline": "alphabetic"},
            "width": 432, "height": 292,
            "data": {"name": "corrD"},
            "transform": [{"fold": ["Sc","La","Ce","Pr","Nd","Sm","Eu","Gd","Tb","Dy","Y","Ho","Er","Tm","Yb","Lu"], "as": ["col", "v"]}],
            "encoding": {
              "x": {"field": "col", "type": "nominal", "sort": ["Sc","La","Ce","Pr","Nd","Sm","Eu","Gd","Tb","Dy","Y","Ho","Er","Tm","Yb","Lu"], "scale": {"paddingInner": 0, "paddingOuter": 0},
                    "axis": {"orient": "top", "title": null, "labelAngle": -90, "labelFontSize": 20, "ticks": false, "domain": false, "labelPadding": 5}},
              "y": {"field": "row", "type": "nominal", "sort": ["P","Na","Fe","Cu","Mn","S","Mg","Ca","Zn","K","B"], "scale": {"paddingInner": 0, "paddingOuter": 0},
                    "axis": {"title": null, "labelFontSize": 18, "ticks": false, "domain": false, "labelPadding": 5}}
            },
            "layer": [
              {"mark": {"type": "rect", "fill": "white", "stroke": "#46d2d2", "strokeWidth": 1.5}},
              {"transform": [{"filter": "isValid(datum.v)"}, {"calculate": "abs(datum.v)", "as": "av"}],
               "mark": {"type": "square", "opacity": 1},
               "encoding": {
                 "color": {"field": "v", "type": "quantitative", "scale": {"domain": [-1, 0, 1], "range": ["#a56a06", "#ffffff", "#0c5b53"], "interpolate": "rgb"}, "legend": null},
                 "size": {"field": "av", "type": "quantitative", "scale": {"domain": [0, 1], "range": [0, 690]}, "legend": null}}},
              {"transform": [{"filter": "isValid(datum.v)"}],
               "mark": {"type": "text", "fontSize": 9, "fontWeight": "bold", "color": "black"},
               "encoding": {"text": {"field": "v", "type": "nominal"}}}
            ]
          },
          {
            "width": 27, "height": 293,
            "data": {"values": [{"lo": -1, "hi": 1}]},
            "mark": {"type": "rect", "fill": {"gradient": "linear", "x1": 0, "y1": 1, "x2": 0, "y2": 0, "stops": [{"offset": 0, "color": "#a56a06"}, {"offset": 0.5, "color": "#ffffff"}, {"offset": 1, "color": "#0c5b53"}]}, "stroke": "#666", "strokeWidth": 1},
            "encoding": {
              "y": {"field": "lo", "type": "quantitative", "scale": {"domain": [-1, 1], "nice": false},
                    "axis": {"orient": "right", "values": [-1, -0.8, -0.6, -0.4, -0.2, 0, 0.2, 0.4, 0.6, 0.8, 1], "labelExpr": "datum.value == 1 ? '1' : datum.value == 0 ? '0' : datum.value == -1 ? '-1' : ''", "labelOverlap": false, "labelFlush": false, "labelFontSize": 19, "tickSize": 5, "tickColor": "#555", "domain": false, "title": "Pearson’s r coefficient", "titleAngle": 270, "titleBaseline": "top", "titleFontSize": 17, "titlePadding": 4}},
              "y2": {"field": "hi"}}
          }
        ]
      }
    ]
  }
]
}
